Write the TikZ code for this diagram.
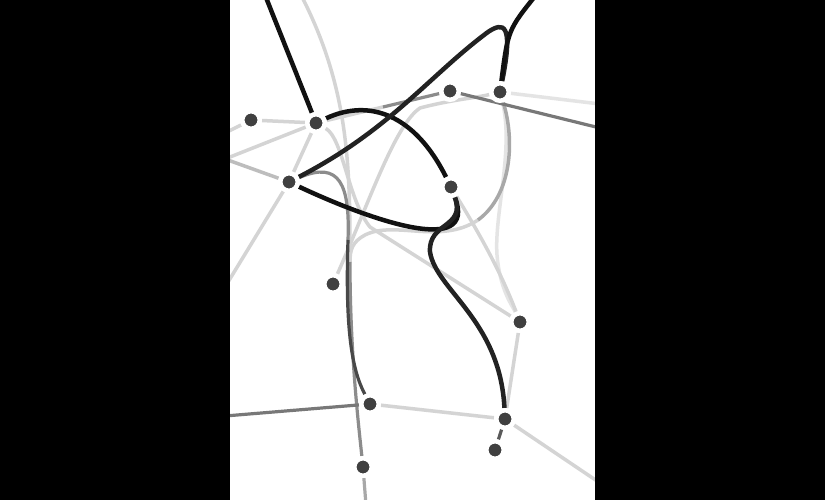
\documentclass[tikz,border=0pt]{standalone}
\usetikzlibrary{calc}
\pgfdeclarelayer{bgl}
\pgfdeclarelayer{edgel}
\pgfsetlayers{bgl,edgel,main}
\definecolor{dotc}{HTML}{404040}
\definecolor{gcl}{HTML}{D4D4D4}
\definecolor{gcvl}{HTML}{E4E4E4}
\definecolor{gcml}{HTML}{BDBDBD}
\definecolor{gcm}{HTML}{A8A8A8}
\definecolor{gcmd}{HTML}{8C8C8C}
\definecolor{gcd}{HTML}{787878}
\definecolor{gcdd}{HTML}{5A5A5A}
\definecolor{gcvd}{HTML}{484848}
\definecolor{gcbk}{HTML}{111111}
\definecolor{gcbkb}{HTML}{222222}
\begin{document}
\begin{tikzpicture}[x=1pt,y=-1pt,
  dot/.style={circle,fill=dotc,draw=white,line width=4.5pt,minimum size=17.5pt,inner sep=0pt},
  lt/.style={line width=3.5pt},
  md/.style={line width=3.2pt},
  bk/.style={line width=4.5pt}]
\useasboundingbox (0,0) rectangle (825,500);
\begin{pgfonlayer}{bgl}
\fill[white] (0,0) rectangle (825,500);
\end{pgfonlayer}
% nodes
\node[dot] (A) at (251,120) {};
\node[dot] (B) at (316,123) {};
\node[dot] (C) at (289,182) {};
\node[dot] (D) at (450,91) {};
\node[dot] (E) at (500,92) {};
\node[dot] (F) at (451,187) {};
\node[dot] (G) at (333,284) {};
\node[dot] (H) at (520,322) {};
\node[dot] (I) at (370,404) {};
\node[dot] (J) at (505,419) {};
\node[dot] (K) at (495,450) {};
\node[dot] (L) at (363,467) {};
% free ends and via points
\coordinate (lA) at (225,133);
\coordinate (lB) at (225,159);
\coordinate (lC) at (225,287);
\coordinate (lI) at (225,416);
\coordinate (rD) at (600,128);
\coordinate (rE) at (600,104);
\coordinate (rJ) at (600,483);
\coordinate (bL) at (366,505);
\coordinate (tB) at (263,-10);
\coordinate (tE) at (536,-5);
\coordinate (tL) at (301,-5);
\coordinate (m1) at (350,262);
\coordinate (e1) at (478,220);
\coordinate (g1) at (420,108);
\coordinate (h1) at (370,227);
\coordinate (h2) at (497,255);
\coordinate (i1) at (348,240);
\coordinate (cE1) at (488,32);
\coordinate (fJ1) at (430,252);
\coordinate (bd) at ($(B)!0.5!(D)$);
\begin{pgfonlayer}{edgel}
% light edges
\draw[lt,gcl] (A) -- (lA);
\draw[lt,gcl] (A) -- (B);
\draw[lt,gcl] (B) -- (lB);
\draw[lt,gcml] (lB) -- (C);
\draw[lt,gcl] (B) -- (C);
\draw[lt,gcl] (C) -- (lC);
\draw[lt,gcl] (B) .. controls (343,138) and (348,200) .. (h1) -- (H);
\draw[lt,gcl] (G) .. controls (370,200) and (395,125) .. (g1) .. controls (450,100) and (475,98) .. (E);
\draw[lt,gcvl] (E) .. controls (514,150) and (494,215) .. (h2) .. controls (500,290) and (512,305) .. (H);
\draw[lt,gcl] (e1) .. controls (440,245) and (395,220) .. (365,235) .. controls (352,242) and (350,250) .. (m1);
\draw[lt,gcm] (E) .. controls (515,140) and (512,195) .. (e1);
\draw[lt,gcl] (F) .. controls (480,235) and (500,270) .. (H);
\draw[lt,gcl] (H) -- (J);
\draw[lt,gcl] (I) -- (J);
\draw[lt,gcl] (J) -- (rJ);
\draw[lt,gcvl] (E) -- (rE);
\draw[lt,gcl] (tL) .. controls (350,90) and (350,170) .. (m1);
\draw[lt,gcl] (B) -- (bd);
% medium edges
\draw[md,gcmd] (bd) -- (D);
\draw[md,gcmd] (m1) .. controls (350,350) and (358,420) .. (L);
\draw[md,gcd] (D) -- (rD);
\draw[md,gcd] (lI) -- (I);
\draw[md,gcm] (L) -- (bL);
\draw[md,gcdd] (J) -- (K);
\draw[md,gcmd] (C) .. controls (340,160) and (350,185) .. (i1);
\draw[md,gcvd] (i1) .. controls (345,330) and (352,370) .. (I);
% black edges
\draw[bk,gcbk] (tB) -- (B);
\draw[bk,gcbk] (B) .. controls (370,98) and (415,115) .. (F);
\draw[bk,gcbk] (C) .. controls (370,220) and (478,258) .. (F);
\draw[bk,gcbkb] (C) .. controls (390,130) and (430,75) .. (cE1) .. controls (503,22) and (514,22) .. (E);
\draw[bk,gcbk] (E) .. controls (508,30) .. (tE);
\draw[bk,gcbkb] (F) .. controls (466,228) and (428,222) .. (fJ1) .. controls (436,290) and (500,320) .. (J);
\end{pgfonlayer}
% black side bars
\fill[black] (0,0) rectangle (230,500);
\fill[black] (595,0) rectangle (825,500);
\end{tikzpicture}
\end{document}
